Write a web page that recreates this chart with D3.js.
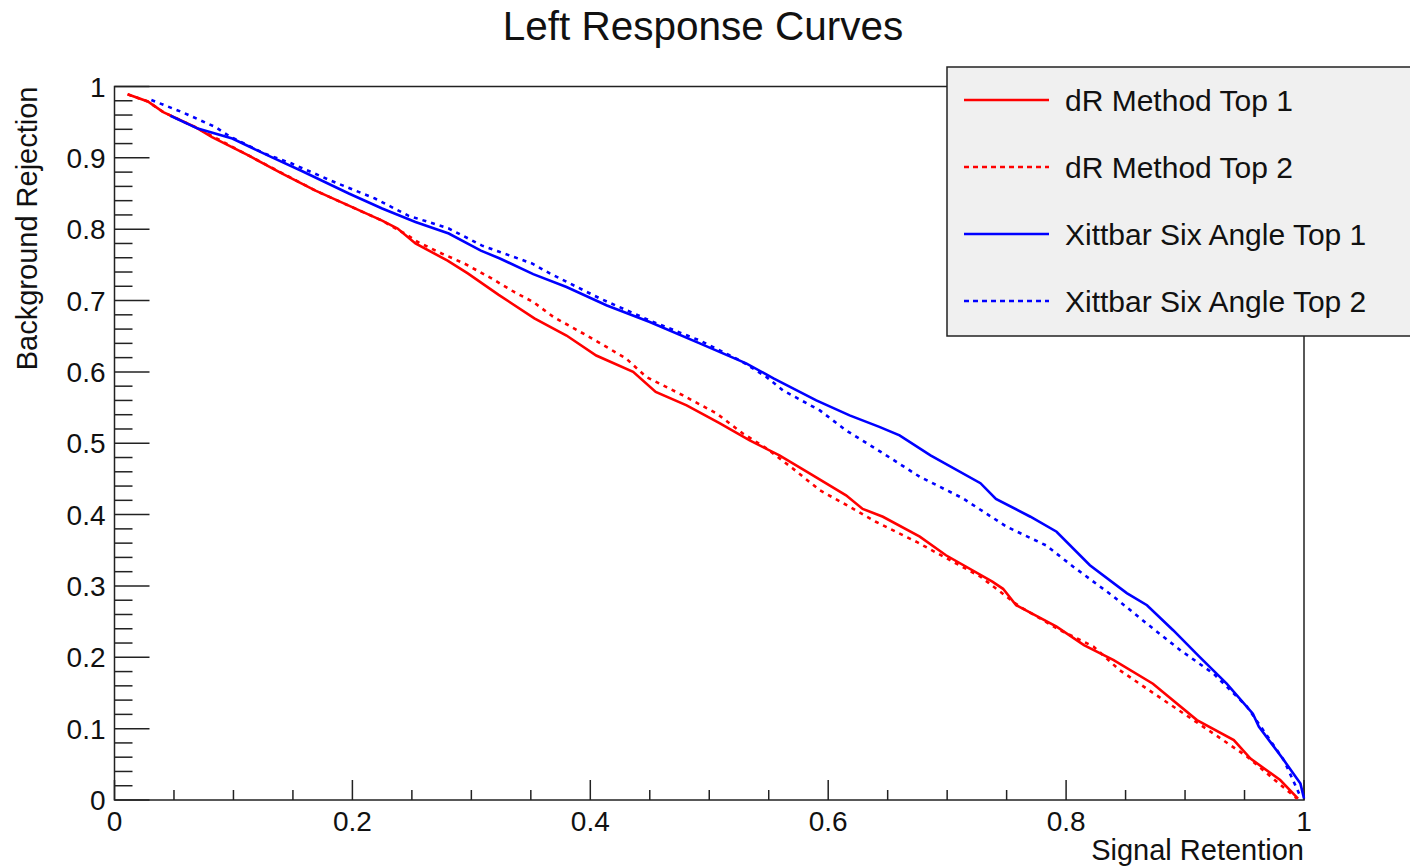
<!DOCTYPE html>
<html>
<head>
<meta charset="utf-8">
<script src="https://cdn.jsdelivr.net/npm/d3@7"></script>
<style>
  body { margin: 0; background: #fff; }
  svg { display: block; font-family: "Liberation Sans", Arial, sans-serif; }
  text { fill: #111; }
</style>
</head>
<body>
<div id="root"></div>
<script>
// signal retention / background rejection
var drTop1 = [[0.011,0.989],[0.028,0.979],[0.041,0.964],[0.068,0.943],[0.082,0.929],[0.113,0.903],
  [0.141,0.878],[0.169,0.854],[0.197,0.833],[0.225,0.812],[0.238,0.801],[0.253,0.780],[0.280,0.756],
  [0.297,0.738],[0.323,0.708],[0.353,0.675],[0.380,0.651],[0.405,0.623],[0.436,0.600],[0.455,0.572],
  [0.481,0.553],[0.509,0.528],[0.534,0.504],[0.559,0.483],[0.584,0.458],[0.615,0.427],[0.629,0.408],
  [0.646,0.397],[0.677,0.369],[0.699,0.343],[0.738,0.306],[0.747,0.296],[0.758,0.273],[0.792,0.243],
  [0.815,0.217],[0.840,0.196],[0.873,0.163],[0.910,0.112],[0.941,0.084],[0.955,0.058],[0.980,0.028],
  [0.995,0.002]];
var drTop2 = [[0.011,0.989],[0.028,0.979],[0.041,0.964],[0.068,0.943],[0.113,0.903],[0.169,0.854],
  [0.225,0.812],[0.247,0.791],[0.255,0.782],[0.275,0.766],[0.294,0.752],[0.317,0.731],[0.336,0.712],
  [0.352,0.698],[0.369,0.677],[0.397,0.651],[0.430,0.619],[0.447,0.593],[0.478,0.567],[0.506,0.542],
  [0.528,0.514],[0.548,0.493],[0.570,0.465],[0.593,0.434],[0.618,0.411],[0.640,0.390],[0.674,0.362],
  [0.728,0.313],[0.750,0.285],[0.761,0.271],[0.795,0.238],[0.823,0.215],[0.845,0.182],[0.882,0.140],
  [0.924,0.093],[0.952,0.061],[0.994,0.002]];
var xiTop1 = [[0.047,0.959],[0.070,0.941],[0.099,0.927],[0.132,0.901],[0.157,0.882],[0.197,0.850],
  [0.225,0.829],[0.253,0.810],[0.281,0.794],[0.308,0.770],[0.324,0.759],[0.352,0.737],[0.380,0.719],
  [0.414,0.693],[0.450,0.670],[0.492,0.640],[0.531,0.612],[0.554,0.591],[0.590,0.560],[0.618,0.539],
  [0.643,0.523],[0.660,0.511],[0.686,0.483],[0.728,0.444],[0.741,0.422],[0.770,0.397],[0.792,0.376],
  [0.820,0.329],[0.851,0.290],[0.868,0.273],[0.890,0.238],[0.912,0.201],[0.935,0.163],[0.957,0.121],
  [0.962,0.103],[0.983,0.056],[0.991,0.037],[0.997,0.023],[1.000,0.002]];
var xiTop2 = [[0.031,0.981],[0.057,0.964],[0.085,0.943],[0.096,0.931],[0.126,0.906],[0.149,0.892],
  [0.182,0.868],[0.219,0.843],[0.247,0.819],[0.281,0.801],[0.309,0.777],[0.324,0.768],[0.351,0.752],
  [0.366,0.738],[0.408,0.703],[0.450,0.672],[0.492,0.644],[0.526,0.616],[0.548,0.593],[0.562,0.574],
  [0.593,0.546],[0.615,0.518],[0.646,0.486],[0.677,0.453],[0.713,0.423],[0.750,0.383],[0.783,0.357],
  [0.806,0.327],[0.840,0.285],[0.868,0.247],[0.896,0.210],[0.924,0.177],[0.952,0.131],[0.983,0.056],
  [0.997,0.005]];

var seriesNames = ["dR Method Top 1", "dR Method Top 2", "Xittbar Six Angle Top 1", "Xittbar Six Angle Top 2"];
var seriesData = [drTop1, drTop2, xiTop1, xiTop2];
var seriesColors = ["#ff0000", "#ff0000", "#0000ff", "#0000ff"];
var seriesDashed = [false, true, false, true];

var xMajor = [0, 0.2, 0.4, 0.6, 0.8, 1];
var yMajor = [0, 0.1, 0.2, 0.3, 0.4, 0.5, 0.6, 0.7, 0.8, 0.9, 1];

var width = 1410, height = 866;
var mLeft = 114.5, mRight = 1304, mTop = 86.5, mBottom = 800;

var svg = d3.select("#root").append("svg")
    .attr("width", width)
    .attr("height", height);

var x = d3.scaleLinear().domain([0, 1]).range([mLeft, mRight]);
var y = d3.scaleLinear().domain([0, 1]).range([mBottom, mTop]);

// title
svg.append("text")
    .attr("x", 703).attr("y", 40)
    .attr("text-anchor", "middle")
    .style("font-size", "40.5px")
    .text("Left Response Curves");

// frame
svg.append("rect")
    .attr("x", mLeft).attr("y", mTop)
    .attr("width", mRight - mLeft).attr("height", mBottom - mTop)
    .attr("fill", "none").attr("stroke", "#222").attr("stroke-width", 1.5);

// ticks, drawn inward like ROOT
var yMinor = d3.range(0, 101, 2).map(function (d) { return d / 100; });
var ga = svg.append("g").attr("stroke", "#222").attr("stroke-width", 1.5);
ga.selectAll(".ym").data(yMinor).enter().append("line")
    .attr("x1", mLeft).attr("x2", function (d) { return Math.round(d * 100) % 10 === 0 ? mLeft + 35 : mLeft + 18; })
    .attr("y1", function (d) { return y(d); }).attr("y2", function (d) { return y(d); });
var xMinor = d3.range(0, 21).map(function (d) { return d / 20; });
ga.selectAll(".xm").data(xMinor).enter().append("line")
    .attr("y1", mBottom).attr("y2", function (d) { return Math.round(d * 20) % 4 === 0 ? mBottom - 20 : mBottom - 10; })
    .attr("x1", function (d) { return x(d); }).attr("x2", function (d) { return x(d); });

svg.selectAll(".yl").data(yMajor).enter().append("text")
    .attr("x", mLeft - 9)
    .attr("y", function (d) { return y(d); })
    .attr("dy", "0.36em")
    .attr("text-anchor", "end")
    .style("font-size", "28px")
    .text(function (d) { return d3.format("~g")(d); });

svg.selectAll(".xl").data(xMajor).enter().append("text")
    .attr("x", function (d) { return x(d); })
    .attr("y", 831)
    .attr("text-anchor", "middle")
    .style("font-size", "28px")
    .text(function (d) { return d3.format("~g")(d); });

// axis titles
svg.append("text")
    .attr("transform", "translate(37," + mTop + ") rotate(-90)")
    .attr("text-anchor", "end")
    .style("font-size", "29px")
    .text("Background Rejection");
svg.append("text")
    .attr("x", mRight).attr("y", 860)
    .attr("text-anchor", "end")
    .style("font-size", "29px")
    .text("Signal Retention");

// curves
var line = d3.line()
    .x(function (d) { return x(d[0]); })
    .y(function (d) { return y(d[1]); });

svg.append("g").selectAll("path")
    .data(seriesData)
    .enter().append("path")
    .attr("d", line)
    .attr("fill", "none")
    .attr("stroke", function (d, i) { return seriesColors[i]; })
    .attr("stroke-width", 2.6)
    .attr("stroke-dasharray", function (d, i) { return seriesDashed[i] ? "4,5" : null; });

// legend
var lg = svg.append("g");
lg.append("rect")
    .attr("x", 947).attr("y", 67)
    .attr("width", 470).attr("height", 269)
    .attr("fill", "#f0f0f0").attr("stroke", "#222").attr("stroke-width", 1.5);
var items = lg.selectAll(".item").data(seriesNames).enter().append("g")
    .attr("transform", function (d, i) { return "translate(0," + (100 + i * 67) + ")"; });
items.append("line")
    .attr("x1", 964).attr("x2", 1049)
    .attr("stroke", function (d, i) { return seriesColors[i]; })
    .attr("stroke-width", 2.6)
    .attr("stroke-dasharray", function (d, i) { return seriesDashed[i] ? "5,4" : null; });
items.append("text")
    .attr("x", 1065).attr("dy", "0.36em")
    .style("font-size", "30px")
    .text(function (d) { return d; });
</script>
</body>
</html>
